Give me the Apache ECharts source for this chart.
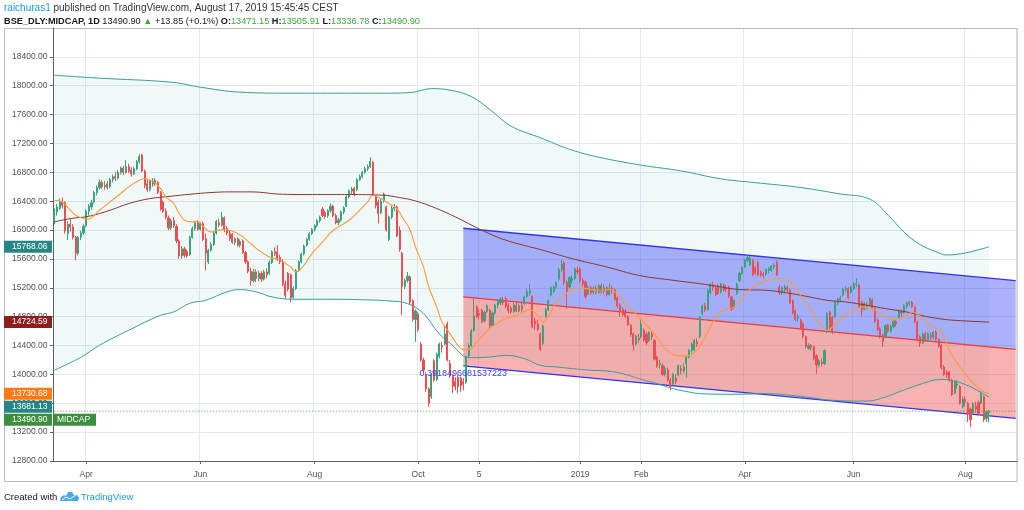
<!DOCTYPE html>
<html><head><meta charset="utf-8">
<script src="https://cdn.jsdelivr.net/npm/echarts/dist/echarts.min.js"></script>
<style>html,body{margin:0;padding:0;background:#fff}#c{width:1024px;height:510px}</style>
</head><body><div id="c"></div><script>
// ---------- DATA ----------
const holidays = ['2018-03-29','2018-03-30','2018-05-01','2018-08-15','2018-08-22','2018-09-13','2018-09-20','2018-10-02','2018-10-18','2018-11-08','2018-11-23','2018-12-25','2019-03-04','2019-03-21','2019-04-17','2019-04-19','2019-04-29','2019-05-01','2019-06-05','2019-08-12','2019-08-15'];
const firstDay = '2018-03-13';
const futureSlots = 10;
const tickLabels = {'2018-04-02':'Apr','2018-06-01':'Jun','2018-08-01':'Aug','2018-10-01':'Oct','2018-11-05':'5','2019-01-01':'2019','2019-02-01':'Feb','2019-04-01':'Apr','2019-06-03':'Jun','2019-08-01':'Aug'};
const yTicks = {min:12800, max:18800, step:400};

// candles: [open, close, low, high]
const candleOCLH = [
[16120,16260,16080,16300],[16250,16320,16200,16360],[16300,16400,16280,16440],[16400,16340,16300,16450],[16380,15990,15950,16400],[15950,16080,15860,16120],[16080,16040,15980,16150],[16040,15900,15870,16080],[15900,15680,15580,15920],[15680,15900,15650,15920],
[15900,15960,15860,15990],[15960,16050,15930,16080],[16060,16260,16040,16290],[16260,16330,16200,16360],[16320,16380,16280,16420],[16390,16520,16370,16540],[16520,16590,16480,16620],[16590,16660,16560,16700],[16660,16600,16570,16690],[16600,16620,16560,16680],
[16640,16590,16560,16680],[16600,16700,16580,16720],[16700,16740,16660,16770],[16740,16720,16680,16800],[16720,16800,16700,16830],[16800,16860,16770,16880],[16860,16800,16760,16890],[16800,16880,16780,16970],[16880,16820,16790,16920],[16830,16780,16740,16870],
[16780,16850,16760,16880],[16850,16950,16830,16970],[16950,17020,16920,17050],[17040,16820,16800,17060],[16820,16620,16580,16840],[16640,16560,16530,16700],[16560,16680,16540,16700],[16680,16640,16600,16720],[16640,16690,16610,16720],[16660,16520,16500,16680],
[16520,16290,16270,16540],[16390,16260,16240,16410],[16260,16180,16150,16300],[16170,16030,16000,16200],[16030,16130,16000,16160],[16130,16060,16030,16180],[16050,15850,15820,16080],[15850,15640,15600,15870],[15640,15740,15600,15780],[15740,15650,15620,15770],
[15700,15640,15620,15730],[15660,15900,15640,15920],[15900,16020,15880,16050],[16020,16100,15990,16130],[16110,16010,15990,16140],[16010,16090,15990,16110],[16090,15870,15850,16120],[15880,15680,15440,15950],[15560,15720,15530,15740],[15720,15800,15700,15830],
[15800,15960,15780,15980],[15960,16120,15940,16140],[16100,16070,16040,16160],[16070,16180,16050,16250],[16170,16000,15970,16190],[16020,15960,15930,16060],[15960,15880,15850,16000],[15940,15830,15810,15960],[15830,15880,15790,15900],[15880,15790,15770,15900],
[15790,15840,15760,15870],[15850,15690,15670,15870],[15690,15560,15530,15710],[15560,15430,15400,15580],[15430,15300,15230,15480],[15300,15420,15270,15460],[15420,15330,15280,15460],[15330,15400,15290,15440],[15400,15320,15280,15430],[15320,15420,15300,15450],
[15420,15380,15330,15470],[15400,15550,15380,15580],[15550,15700,15530,15720],[15700,15680,15640,15760],[15700,15600,15570,15790],[15620,15560,15530,15660],[15560,15250,15220,15600],[15250,15090,15050,15300],[15400,15180,15150,15420],[15380,15060,15000,15400],
[15070,15190,15050,15220],[15190,15440,15170,15460],[15440,15560,15420,15580],[15560,15670,15540,15690],[15670,15780,15650,15800],[15790,15870,15770,15890],[15870,15950,15850,15970],[15950,16010,15930,16030],[16010,16060,15980,16080],[16060,16130,16040,16150],
[16130,16180,16100,16200],[16290,16200,16180,16320],[16240,16190,16160,16270],[16200,16270,16170,16290],[16270,16330,16240,16370],[16330,16200,16180,16350],[16200,16100,16080,16230],[16100,16140,16070,16170],[16140,16250,16120,16270],[16250,16310,16220,16330],
[16330,16460,16320,16480],[16460,16540,16440,16560],[16540,16570,16500,16600],[16580,16500,16470,16600],[16560,16700,16540,16720],[16700,16740,16680,16770],[16740,16800,16720,16820],[16800,16850,16780,16880],[16850,16880,16820,16910],[16880,16950,16860,17010],
[16940,16500,16470,16960],[16460,16340,16300,16480],[16390,16230,16090,16420],[16240,16400,16220,16430],[16400,16500,16380,16520],[16320,16000,15980,16340],[15870,16180,15850,16200],[16180,16300,16150,16340],[16300,16320,16260,16360],[16320,15920,15900,16340],
[16000,15730,15700,16050],[15680,15220,14820,15700],[15220,15300,15180,15330],[15300,15360,15270,15420],[15350,15000,14970,15370],[15020,14760,14730,15040],[14760,14880,14450,14900],[14840,14620,14590,14860],[14420,14200,14180,14450],[14200,14060,14030,14230],
[14000,13800,13760,14030],[13800,13600,13550,13820],[13690,14000,13660,14020],[14190,13920,13900,14210],[13930,14280,13910,14300],[14250,14420,14220,14440],[14400,14380,14300,14450],[14420,14560,14400,14680],[14700,14200,14180,14730],[14150,13980,13950,14200],
[13970,13840,13740,14000],[13900,13830,13780,13960],[13960,13830,13740,13990],[13950,13840,13760,13970],[13900,13860,13780,13950],[13890,14240,13870,14260],[14260,14400,14240,14430],[14400,14600,14380,14630],[14610,14810,14590,15050],[14930,14800,14780,14960],
[14840,14820,14760,14900],[14890,14730,14710,14910],[14740,14860,14720,14880],[14870,14950,14850,14970],[14890,14670,14640,14910],[14680,14850,14660,14870],[14850,14960,14830,14980],[14960,15020,14920,15040],[14990,15040,14960,15070],[15030,15000,14960,15070],
[15050,14950,14920,15080],[14960,14880,14850,14990],[14920,14870,14840,14950],[14870,14960,14850,14990],[14960,14880,14860,15000],[14880,14950,14860,14980],[14950,14900,14870,14990],[14980,15070,14960,15090],[15080,15150,15060,15180],[15120,15160,15090,15250],
[15080,14660,14640,15100],[14740,14700,14620,14780],[14700,14620,14600,14760],[14560,14350,14320,14580],[14430,14670,14410,14690],[14800,14900,14780,14920],[14900,15020,14880,15040],[15100,15200,15080,15220],[15150,15210,15120,15230],[15210,15270,15190,15290],
[15320,15450,15300,15480],[15450,15530,15420,15590],[15550,15270,15240,15570],[15280,15150,14910,15300],[15210,15340,15190,15360],[15300,15330,15260,15370],[15330,15460,15310,15480],[15440,15420,15380,15490],[15460,15300,15270,15480],[15300,15250,15220,15340],
[15280,15080,15050,15300],[15120,15200,15100,15230],[15200,15130,15100,15230],[15140,15190,15110,15220],[15190,15140,15110,15230],[15140,15230,15120,15250],[15230,15150,15120,15260],[15150,15200,15120,15250],[15200,15110,15080,15220],[15110,15190,15090,15260],
[15190,15170,15120,15230],[15170,15040,15020,15190],[15060,14950,14920,15080],[14960,14880,14800,14990],[14900,14830,14800,14930],[14880,14800,14780,14910],[14800,14690,14670,14820],[14680,14550,14520,14700],[14560,14410,14330,14580],[14420,14530,14400,14550],
[14500,14480,14440,14560],[14520,14700,14500,14750],[14610,14480,14460,14640],[14560,14440,14410,14590],[14470,14580,14450,14600],[14560,14520,14480,14610],[14470,14210,14190,14490],[14240,14110,14090,14260],[14130,14150,14080,14200],[14120,14000,13980,14150],
[14000,14080,13970,14120],[14060,13920,13900,14090],[13920,13830,13780,13950],[13870,14000,13850,14020],[13950,13900,13860,14000],[13990,14120,13970,14140],[14080,14050,14000,14130],[14050,14100,14020,14150],[14150,14240,13960,14260],[14240,14330,14220,14350],
[14330,14420,14300,14440],[14340,14470,14320,14490],[14450,14420,14380,14500],[14520,14790,14500,14810],[14840,14950,14820,14970],[14950,14900,14860,14990],[14900,15160,14880,15180],[15130,15250,15110,15270],[15240,15210,15160,15280],[15200,15110,15090,15230],
[15230,15120,15100,15250],[15140,15250,15120,15270],[15240,15170,15150,15260],[15200,15180,15140,15240],[15210,15080,15060,15230],[15070,14900,14880,15090],[14930,15020,14910,15040],[15120,15250,15100,15270],[15300,15400,15280,15420],[15400,15480,15380,15500],
[15490,15580,15470,15600],[15580,15620,15550,15650],[15520,15610,15500,15640],[15580,15380,15360,15600],[15480,15410,15380,15500],[15550,15380,15360,15570],[15420,15380,15350,15440],[15390,15370,15330,15420],[15390,15450,15370,15470],[15440,15460,15400,15490],
[15440,15500,15420,15520],[15490,15510,15460,15540],[15550,15380,15360,15580],[15210,15130,15100,15240],[15130,15200,15100,15220],[15170,15210,15140,15240],[15200,15170,15140,15230],[15170,14990,14970,15190],[15020,14850,14830,15040],[14880,14760,14740,14900],
[14780,14800,14730,14830],[14750,14640,14620,14770],[14700,14530,14500,14720],[14520,14390,14360,14540],[14360,14400,14340,14430],[14400,14380,14330,14420],[14380,14220,14200,14400],[14260,14130,14010,14280],[14130,14190,14100,14210],[14170,14150,14110,14220],
[14150,14330,14130,14350],[14590,14840,14570,14860],[14860,14640,14620,14880],[14790,14600,14560,14810],[14800,15000,14780,15020],[14990,15040,14960,15060],[15040,15060,15000,15090],[15100,15180,15080,15200],[15180,15190,15140,15220],[15190,15060,15040,15210],
[15140,15210,15120,15230],[15190,15250,15170,15280],[15250,15260,15210,15330],[15240,14940,14920,15260],[15000,14890,14800,15020],[14910,14980,14890,15000],[14960,14940,14900,15000],[14960,15050,14940,15070],[15030,14920,14900,15050],[14910,14730,14710,14930],
[14750,14620,14600,14770],[14630,14520,14500,14650],[14540,14460,14380,14560],[14520,14680,14500,14700],[14680,14600,14580,14700],[14600,14660,14580,14690],[14660,14740,14640,14760],[14730,14700,14660,14770],[14790,14880,14770,14900],[14860,14850,14800,14900],
[14860,14950,14840,14970],[14940,14990,14910,15010],[14980,15000,14950,15020],[15000,14940,14920,15020],[14930,14730,14710,14950],[14720,14480,14460,14740],[14520,14430,14380,14540],[14440,14560,14420,14580],[14560,14480,14460,14590],[14480,14560,14460,14580],
[14540,14520,14480,14580],[14520,14580,14490,14600],[14580,14490,14470,14610],[14480,14390,14370,14500],[14400,14090,14070,14420],[14100,14000,13980,14130],[14030,13990,13950,14060],[14030,13920,13900,14050],[13920,13720,13700,13940],[13740,13890,13720,13910],
[13850,13870,13800,13920],[13830,13600,13580,13850],[13550,13660,13530,13680],[13650,13620,13560,13700],[13600,13460,13340,13620],[13520,13370,13270,13540],[13460,13590,13440,13610],[13560,13520,13470,13620],[13610,13460,13440,13640],[13600,13730,13580,13760],
[13690,13370,13340,13710],[13390,13480,13340,13500],[13471.15,13490.90,13336.78,13505.91]
];

// indicator lines: [barIndex, value]
const maFast = [[0,16413],[3,16390],[6,16275],[8,16205],[11,16159],[13,16150],[15,16205],[17,16275],[21,16390],[25,16506],[28,16598],[32,16690],[34,16714],[36,16690],[38,16650],[40,16575],[42,16460],[45,16367],[47,16228],[49,16136],[52,16113],[54,16113],[56,16053],[59,15974],[61,15997],[64,16006],[66,15997],[69,15951],[71,15905],[74,15812],[77,15720],[81,15628],[85,15581],[89,15489],[91,15420],[94,15512],[97,15674],[101,15836],[105,15997],[108,16067],[111,16136],[115,16275],[118,16390],[120,16483],[123,16436],[126,16367],[129,16298],[131,16183],[134,15997],[136,15766],[139,15489],[141,15212],[144,14934],[146,14727],[149,14565],[152,14403],[154,14343],[157,14357],[159,14449],[162,14565],[165,14666],[170,14773],[175,14833],[179,14897],[182,14819],[184,14727],[187,14865],[189,15004],[192,15096],[194,15156],[198,15202],[202,15175],[205,15166],[209,15175],[212,15119],[215,14981],[219,14842],[223,14680],[227,14509],[230,14357],[234,14264],[238,14255],[241,14300],[244,14440],[247,14658],[251,14865],[256,14935],[259,15050],[263,15212],[268,15295],[273,15328],[277,15281],[281,15097],[285,14889],[288,14704],[291,14611],[293,14658],[297,14796],[301,14889],[305,14935],[308,14912],[312,14819],[316,14759],[320,14787],[323,14865],[327,14773],[331,14648],[334,14588],[337,14334],[341,14103],[345,13918],[349,13779],[352,13730.68]];
const bandBasis = [[0,16113],[6,16159],[13,16191],[21,16275],[28,16367],[36,16436],[44,16469],[51,16496],[59,16520],[66,16529],[74,16529],[86,16496],[99,16492],[111,16492],[124,16483],[130,16450],[136,16404],[144,16298],[151,16183],[156,16090],[162,15980],[170,15860],[184,15720],[195,15604],[208,15489],[220,15373],[233,15304],[243,15258],[251,15212],[258,15175],[268,15166],[276,15129],[283,15083],[291,15027],[298,15004],[306,14958],[313,14912],[321,14865],[328,14805],[336,14759],[343,14741],[352,14724.59]];
const bandUpper = [[0,18146],[17,18105],[44,18049],[55,17980],[70,17911],[89,17897],[108,17897],[123,17897],[134,17905],[142,17960],[149,17939],[157,17850],[164,17670],[172,17440],[183,17280],[194,17120],[205,17010],[221,16900],[236,16820],[251,16710],[266,16650],[281,16590],[296,16500],[307,16430],[314,16206],[320,15970],[326,15800],[332,15700],[336,15655],[343,15683],[352,15768.06]];
const bandLower = [[0,14057],[10,14237],[17,14403],[28,14611],[40,14819],[45,14866],[51,14985],[57,15027],[65,15143],[70,15175],[76,15143],[82,15073],[90,15041],[101,15041],[114,15036],[126,15018],[133,14981],[139,14842],[145,14560],[150,14400],[153,14288],[155,14241],[158,14232],[164,14241],[170,14264],[177,14218],[183,14126],[189,14103],[195,14080],[202,14057],[208,14047],[214,14010],[220,13941],[227,13872],[233,13802],[239,13756],[243,13733],[256,13724],[268,13733],[281,13696],[293,13641],[306,13630],[313,13687],[318,13756],[325,13850],[334,13930],[343,13860],[352,13681.13]];

// regression channel
const channelIdx = [154, 362];
const channelUpper = [16025, 15298];
const channelMid = [15075, 14348];
const channelLower = [14118, 13392];
const channelLabel = '0.3918496681537223';

const priceTags = [
  {value:15768.06, color:'#268685'},
  {value:14724.59, color:'#8c1e1e'},
  {value:13730.68, color:'#ff7a14'},
  {value:13681.13, color:'#268685'},
  {value:13490.90, color:'#3d8f40'}
];
const lastClose = 13490.90;

// ---------- BUILD ----------
function tradingDays(start, count) {
  const out = []; const d = new Date(start + 'T00:00:00Z');
  while (out.length < count) {
    const wd = d.getUTCDay(); const s = d.toISOString().slice(0, 10);
    if (wd !== 0 && wd !== 6 && holidays.indexOf(s) < 0) out.push(s);
    d.setUTCDate(d.getUTCDate() + 1);
  }
  return out;
}
const categories = tradingDays(firstDay, candleOCLH.length + futureSlots);
const isTick = (idx, val) => tickLabels[val] !== undefined;
const pairs = (xs, ys) => xs.map((x, k) => [x, ys[k]]);
const chU = pairs(channelIdx, channelUpper), chM = pairs(channelIdx, channelMid), chL = pairs(channelIdx, channelLower);
const lastCloseLine = [[0, lastClose], [categories.length - 1, lastClose]];

function areaBetween(top, bottom, fill, z) {
  return { type:'custom', silent:true, z:z, data:[top[0]], clip:true,
    renderItem: function (params, api) {
      if (params.dataIndex !== 0) return;
      const pts = top.map(p => api.coord(p)).concat(bottom.slice().reverse().map(p => api.coord(p)));
      return { type:'polygon', shape:{points:pts}, style:{fill:fill} };
    } };
}
function lineSeries(data, color, width, z, smooth, type) {
  return { type:'line', data:data, showSymbol:false, symbol:'none', smooth:smooth, z:z, silent:true,
    lineStyle:{color:color, width:width, type:type || 'solid'}, emphasis:{disabled:true} };
}

const FONT = 'Liberation Sans';
const chart = echarts.init(document.getElementById('c'), null, {renderer:'canvas'});
chart.setOption({
  animation:false,
  backgroundColor:'#ffffff',
  grid:{left:53, right:7, top:28, bottom:49, containLabel:false},
  xAxis:{type:'category', data:categories, boundaryGap:true,
    axisLine:{lineStyle:{color:'#5d606b', width:1}},
    axisTick:{show:true, interval:isTick, alignWithLabel:true, length:3, lineStyle:{color:'#5d606b'}},
    axisLabel:{interval:isTick, formatter:v => tickLabels[v] || '', color:'#4c525e', fontSize:8.5, fontFamily:FONT, margin:9},
    splitLine:{show:true, interval:isTick, lineStyle:{color:'#e3eaf1', width:1}}},
  yAxis:{type:'value', position:'left', min:yTicks.min, max:yTicks.max, interval:yTicks.step, scale:true,
    axisLine:{show:true, lineStyle:{color:'#5d606b'}},
    axisTick:{show:true, length:3, lineStyle:{color:'#5d606b'}},
    axisLabel:{formatter:v => v.toFixed(2), color:'#4c525e', fontSize:8.5, fontFamily:FONT, margin:5.5, showMaxLabel:false},
    splitLine:{show:true, lineStyle:{color:'#e3eaf1', width:1}}},
  series:[
    areaBetween(bandUpper, bandLower, 'rgba(38,166,154,0.07)', 1),
    areaBetween(chU, chM, 'rgba(60,70,245,0.42)', 1),
    areaBetween(chM, chL, 'rgba(240,70,70,0.42)', 1),
    lineSeries(chU, '#3232ee', 1.3, 2, false),
    lineSeries(chM, '#ee3a3a', 1.3, 2, false),
    lineSeries(chL, '#3232ee', 1.3, 2, false),
    { type:'candlestick', data:candleOCLH, z:3, barWidth:1.6, silent:true,
      itemStyle:{color:'#3aa27c', color0:'#ee4d52', borderColor:'#3aa27c', borderColor0:'#ee4d52', borderWidth:1} },
    lineSeries(bandBasis, '#8f3535', 1, 4, 0.4),
    lineSeries(bandUpper, '#3a9e96', 1, 4, 0.4),
    lineSeries(bandLower, '#3a9e96', 1, 4, 0.4),
    lineSeries(maFast, '#ff9a3c', 1.1, 5, 0.4),
    lineSeries(lastCloseLine, '#3f9c43', 1, 6, false, [1, 2])
  ]
});

// ---------- OVERLAYS ----------
const g = [];
// frame
g.push({type:'rect', shape:{x:4.5, y:28.5, width:1012.5, height:453}, style:{fill:'none', stroke:'#b6b9c2', lineWidth:1}, z:0, silent:true});
// header
g.push({type:'text', x:4, y:8, silent:true, style:{
  text:'{u|raichuras1}{t| published on TradingView.com, August 17, 2019 15:45:45 CEST}',
  verticalAlign:'middle', rich:{u:{fill:'#2196f3', fontSize:10, fontFamily:FONT}, t:{fill:'#333333', fontSize:10, fontFamily:FONT}}}});
g.push({type:'text', x:4, y:21, silent:true, style:{
  text:'{b|BSE_DLY:MIDCAP, 1D}{t| 13490.90 }{g|▲}{t| +13.85 (+0.1%) }{k|O:}{g|13471.15}{k| H:}{g|13505.91}{k| L:}{g|13336.78}{k| C:}{g|13490.90}',
  verticalAlign:'middle', rich:{
    b:{fill:'#131722', fontSize:9.2, fontWeight:'bold', fontFamily:FONT},
    t:{fill:'#131722', fontSize:9.2, fontFamily:FONT},
    k:{fill:'#131722', fontSize:9.2, fontWeight:'bold', fontFamily:FONT},
    g:{fill:'#3ea63e', fontSize:9.2, fontFamily:FONT}}}});
// footer
g.push({type:'text', x:4, y:497, silent:true, style:{text:'Created with', fill:'#131722', fontSize:9.5, fontFamily:FONT, verticalAlign:'middle'}});
g.push({type:'polygon', silent:true, shape:{points:[[60,501],[61,497],[64,495],[66,496],[68,492],[72,492],[74,495],[77,495],[79,498],[78,501]]}, style:{fill:'#4aa8e8'}});
g.push({type:'polyline', silent:true, shape:{points:[[62,500],[66,497],[70,499],[76,495]]}, style:{stroke:'#ffffff', lineWidth:1, fill:'none'}});
g.push({type:'text', x:81, y:497, silent:true, style:{text:'TradingView', fill:'#2196f3', fontSize:9.5, fontFamily:FONT, verticalAlign:'middle'}});

// price tags on the axis
const tagYs = priceTags.map(t => ({t:t, y:chart.convertToPixel({yAxisIndex:0}, t.value)})).sort((a, b) => a.y - b.y);
let prev = -1e9;
tagYs.forEach(o => {
  const y = Math.max(o.y, prev + 13); prev = y;
  g.push({type:'rect', silent:true, z:10, shape:{x:4, y:y - 6, width:48, height:12}, style:{fill:o.t.color}});
  g.push({type:'text', silent:true, z:11, x:47.5, y:y, style:{text:o.t.value.toFixed(2), fill:'#ffffff', fontSize:8.5, fontFamily:FONT, align:'right', verticalAlign:'middle'}});
  if (o.t.value === lastClose) {
    g.push({type:'rect', silent:true, z:10, shape:{x:54, y:y - 6, width:42, height:12}, style:{fill:o.t.color}});
    g.push({type:'text', silent:true, z:11, x:57, y:y, style:{text:'MIDCAP', fill:'#ffffff', fontSize:8.5, fontFamily:FONT, align:'left', verticalAlign:'middle'}});
  }
});
// channel value label
const lp = chart.convertToPixel({xAxisIndex:0, yAxisIndex:0}, chL[0]);
g.push({type:'text', silent:true, z:6, x:lp[0], y:lp[1] + 8, style:{text:channelLabel, fill:'#3d3df5', fontSize:9, fontFamily:FONT, align:'center', verticalAlign:'middle'}});

chart.setOption({graphic:g});
</script></body></html>
